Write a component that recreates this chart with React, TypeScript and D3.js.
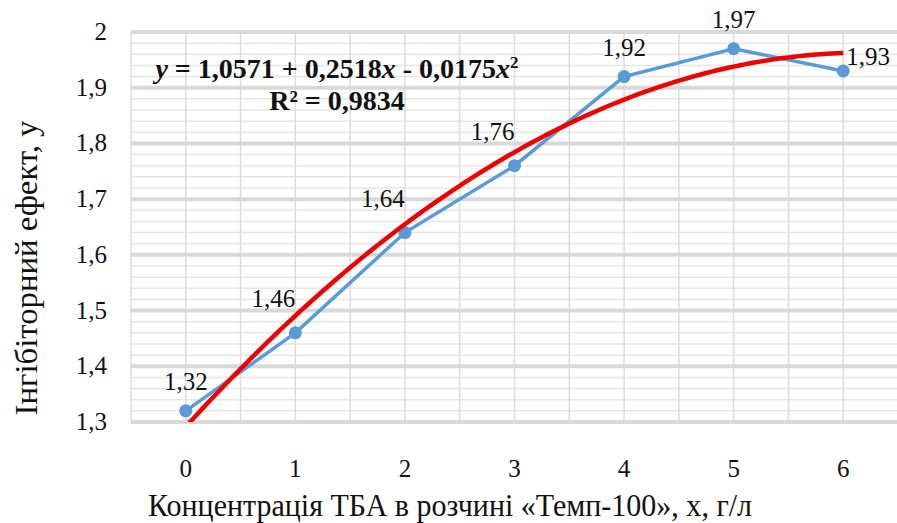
import React from 'react';
import * as d3 from 'd3';

// concentration, g/l
const concentrations = [0, 1, 2, 3, 4, 5, 6];
// inhibitory effect
const effects = [1.32, 1.46, 1.64, 1.76, 1.92, 1.97, 1.93];
// where each value label sits relative to its point
const labelSides = ['above', 'aboveLeft', 'aboveLeft', 'aboveLeft', 'above', 'above', 'right'];
// polynomial trend (Excel uses point index 1..n as x)
const trendCoefs = [1.0571, 0.2518, -0.0175];
const yTicks = [1.3, 1.4, 1.5, 1.6, 1.7, 1.8, 1.9, 2];

const fmt = (v: number) => String(v).replace('.', ',');

const width = 897;
const height = 523;
const margin = { top: 32, right: 0, bottom: 101, left: 131 };
const ff = 'Times New Roman';

const x = d3.scaleLinear()
  .domain([-0.5, 6.5])
  .range([margin.left, width - margin.right + 1]);

const y = d3.scaleLinear()
  .domain([1.3, 2])
  .range([height - margin.bottom, margin.top]);

type Pt = { c: number; v: number };

const App = () => {
  const minor = d3.range(1.3, 2.0001, 0.02).filter(v => Math.abs(v * 10 - Math.round(v * 10)) > 0.01);
  const vGrid = d3.range(-0.5, 6.51, 0.5);
  const data = concentrations.map((c, i) => ({ c, v: effects[i], side: labelSides[i] }));
  const line = d3.line<Pt>().x(d => x(d.c)).y(d => y(d.v));
  const trend = d3.range(0, 6.001, 0.05).map(c => {
    const t = c + 1;
    return { c, v: trendCoefs[0] + trendCoefs[1] * t + trendCoefs[2] * t * t };
  });

  return (
    <svg width={width} height={height} style={{ position: 'absolute', left: 0, top: 0 }}>
      <defs>
        <clipPath id="plot-clip">
          <rect x={margin.left} y={margin.top} width={width - margin.left} height={y(1.3) - y(2)} />
        </clipPath>
      </defs>

      {/* grid */}
      {minor.map(d => (
        <line key={'m' + d} x1={margin.left} x2={width} y1={y(d)} y2={y(d)} stroke="#e6e6e6" strokeWidth={1.5} />
      ))}
      {vGrid.map(d => (
        <line key={'v' + d} x1={x(d)} x2={x(d)} y1={y(2)} y2={y(1.3)} stroke="#dcdcdc" strokeWidth={1.5} />
      ))}
      {yTicks.map(d => (
        <line key={'h' + d} x1={margin.left} x2={width} y1={y(d)} y2={y(d)} stroke="#d9d9d9" strokeWidth={4} />
      ))}

      {/* y tick labels */}
      {yTicks.map(d => (
        <text key={'yt' + d} fontFamily={ff} x={107} y={y(d) + 8} textAnchor="end" fontSize={25} fill="#111">{fmt(d)}</text>
      ))}
      {/* x tick labels */}
      {concentrations.map(d => (
        <text key={'xt' + d} fontFamily={ff} x={x(d)} y={477} textAnchor="middle" fontSize={25} fill="#111">{d}</text>
      ))}

      <text fontFamily={ff} x={450} y={516} textAnchor="middle" fontSize={31} fill="#111" textLength={604} lengthAdjust="spacingAndGlyphs">
        Концентрація ТБА в розчині «Темп-100», х, г/л
      </text>
      <text
        fontFamily={ff}
        transform="translate(37,268) rotate(-90)"
        textAnchor="middle"
        fontSize={31}
        fill="#111"
        textLength={295}
        lengthAdjust="spacingAndGlyphs"
      >
        Інгібіторний ефект, у
      </text>

      {/* data series */}
      <path d={line(data) || ''} fill="none" stroke="#5b9bd5" strokeWidth={3.5} />
      {data.map(d => (
        <circle key={'p' + d.c} cx={x(d.c)} cy={y(d.v)} r={6.5} fill="#5b9bd5" />
      ))}

      {/* trend */}
      <path d={line(trend) || ''} clipPath="url(#plot-clip)" fill="none" stroke="#ee0000" strokeWidth={4.5} />

      {data.map(d => (
        <text
          key={'l' + d.c}
          fontFamily={ff}
          x={x(d.c) + (d.side === 'aboveLeft' ? -22 : d.side === 'right' ? 3 : 0)}
          y={y(d.v) + (d.side === 'right' ? -6 : d.side === 'aboveLeft' ? -26 : -21)}
          textAnchor={d.side === 'right' ? 'start' : 'middle'}
          fontSize={25}
          fill="#111"
        >
          {fmt(d.v)}
        </text>
      ))}

      <text fontFamily={ff} x={337} y={78} textAnchor="middle" fontSize={28} fontWeight="bold" fill="#111">
        <tspan fontStyle="italic">y</tspan>
        <tspan> = 1,0571 + 0,2518</tspan>
        <tspan fontStyle="italic">x</tspan>
        <tspan> - 0,0175</tspan>
        <tspan fontStyle="italic">x</tspan>
        <tspan fontSize={17} dy={-10}>2</tspan>
      </text>
      <text fontFamily={ff} x={337} y={110} textAnchor="middle" fontSize={28} fontWeight="bold" fill="#111">
        R² = 0,9834
      </text>
    </svg>
  );
};

export default App;
